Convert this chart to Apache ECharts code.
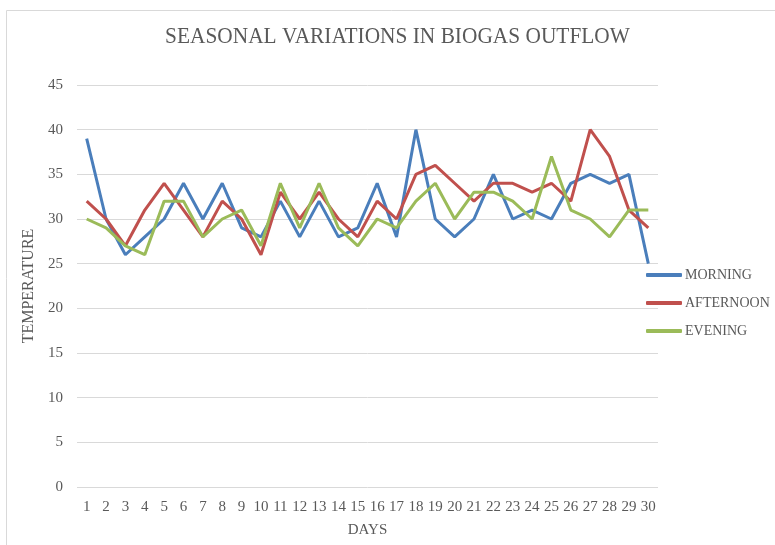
<!DOCTYPE html>
<html><head><meta charset="utf-8">
<script src="https://cdn.jsdelivr.net/npm/echarts@6/dist/echarts.min.js"></script>
<style>html,body{margin:0;padding:0;background:#fff}#c{width:775px;height:545px}</style>
</head><body><div id="c"></div>
<script>
const days = ['1','2','3','4','5','6','7','8','9','10','11','12','13','14','15','16','17','18','19','20','21','22','23','24','25','26','27','28','29','30'];
const morning   = [39,30,26,28,30,34,30,34,29,28,32,28,32,28,29,34,28,40,30,28,30,35,30,31,30,34,35,34,35,25];
const afternoon = [32,30,27,31,34,31,28,32,30,26,33,30,33,30,28,32,30,35,36,34,32,34,34,33,34,32,40,37,31,29];
const evening   = [30,29,27,26,32,32,28,30,31,27,34,29,34,29,27,30,29,32,34,30,33,33,32,30,37,31,30,28,31,31];
const seriesNames = ['MORNING','AFTERNOON','EVENING'];
const titleText = 'SEASONAL VARIATIONS IN BIOGAS OUTFLOW';
const colors = ['#4A7EBB','#C0504D','#9BBB59'];
const font = 'Liberation Serif';
const chart = echarts.init(document.getElementById('c'), null, {renderer:'canvas'});
const data = [morning, afternoon, evening];
chart.setOption({
  animation:false,
  textStyle:{fontFamily:font},
  graphic:[
    {type:'rect',shape:{x:6.5,y:10.5,width:900,height:700},style:{fill:'none',stroke:'#d9d9d9',lineWidth:1},silent:true},
    {type:'text',x:397.5,y:37,scaleX:0.89,silent:true,
      style:{text:titleText,fontFamily:font,fontSize:24,fill:'#595959',align:'center',verticalAlign:'middle'}}
  ],
  grid:{left:77,top:85,width:581,height:402,containLabel:false},
  legend:{orient:'vertical',left:646,top:268,padding:0,itemWidth:36,itemHeight:4,itemGap:14,icon:'roundRect',
    textStyle:{fontFamily:font,fontSize:14,color:'#595959',padding:[0,0,0,-2]},
    data:seriesNames},
  xAxis:{type:'category',data:days,boundaryGap:true,
    axisLine:{show:false},axisTick:{show:false},
    axisLabel:{fontFamily:font,fontSize:15,color:'#595959',margin:13,interval:0},
    name:'DAYS',nameLocation:'middle',nameGap:36,
    nameTextStyle:{fontFamily:font,fontSize:15,color:'#595959'}},
  yAxis:{type:'value',min:0,max:45,interval:5,
    axisLine:{show:false},axisTick:{show:false},
    axisLabel:{fontFamily:font,fontSize:15,color:'#595959',margin:14},
    splitLine:{lineStyle:{color:'#d9d9d9',width:1}},
    name:'TEMPERATURE',nameLocation:'middle',nameGap:37,nameRotate:90,
    nameTextStyle:{fontFamily:font,fontSize:16,color:'#595959'}},
  series:seriesNames.map((n,i)=>({name:n,type:'line',data:data[i],symbol:'none',
    lineStyle:{color:colors[i],width:3},itemStyle:{color:colors[i]}}))
});
</script></body></html>
